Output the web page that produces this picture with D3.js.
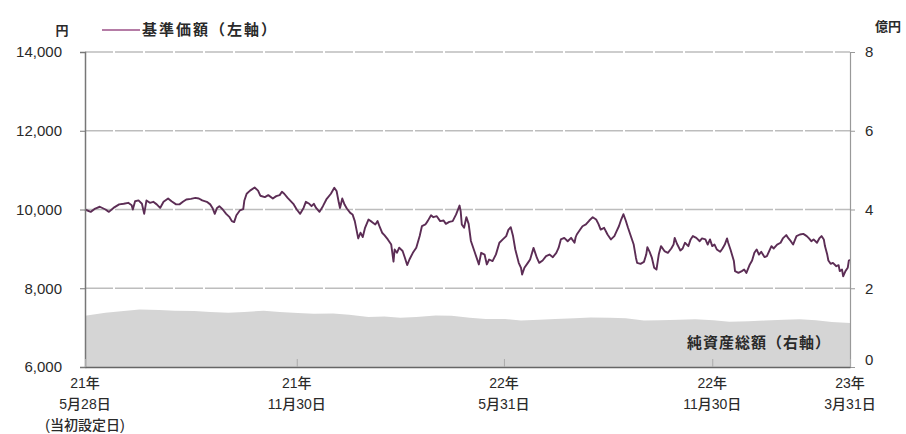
<!DOCTYPE html>
<html>
<head>
<meta charset="utf-8">
<script src="https://cdn.jsdelivr.net/npm/d3@7"></script>
<style>
  body { margin: 0; background: #fff; }
  svg text { font-family: "Liberation Sans", Arial, "Noto Sans CJK JP", sans-serif; fill: #2a2a2a; }
</style>
</head>
<body>
<div class="chart"></div>
<script>
// 基準価額 (left axis, yen)
const nav = [
  ["2021-05-28",10000],["2021-06-02",9940],["2021-06-06",10025],["2021-06-10",10070],["2021-06-15",10000],
  ["2021-06-18",9940],["2021-06-22",10040],["2021-06-27",10130],["2021-07-01",10145],["2021-07-05",10170],
  ["2021-07-08",10110],["2021-07-09",10000],["2021-07-11",10210],["2021-07-14",10230],["2021-07-17",10145],
  ["2021-07-19",9890],["2021-07-21",10230],["2021-07-24",10170],["2021-07-27",10195],["2021-07-30",10130],
  ["2021-08-02",10040],["2021-08-05",10195],["2021-08-09",10280],["2021-08-12",10210],["2021-08-16",10130],
  ["2021-08-19",10130],["2021-08-22",10195],["2021-08-25",10255],["2021-08-29",10270],["2021-09-02",10295],
  ["2021-09-05",10280],["2021-09-08",10230],["2021-09-12",10195],["2021-09-15",10130],["2021-09-17",10040],
  ["2021-09-19",9890],["2021-09-21",10040],["2021-09-23",10085],["2021-09-26",10000],["2021-09-29",9890],
  ["2021-10-02",9805],["2021-10-04",9705],["2021-10-06",9680],["2021-10-08",9855],["2021-10-11",9975],
  ["2021-10-14",10010],["2021-10-15",10230],["2021-10-17",10400],["2021-10-20",10480],["2021-10-24",10560],
  ["2021-10-27",10480],["2021-10-29",10350],["2021-11-02",10315],["2021-11-05",10365],["2021-11-09",10280],
  ["2021-11-12",10340],["2021-11-15",10365],["2021-11-17",10450],["2021-11-19",10400],["2021-11-22",10295],
  ["2021-11-27",10145],["2021-11-30",10000],["2021-12-03",9890],["2021-12-06",10040],["2021-12-08",10195],
  ["2021-12-11",10145],["2021-12-13",10085],["2021-12-15",10145],["2021-12-17",10040],["2021-12-20",9940],
  ["2021-12-23",10085],["2021-12-26",10255],["2021-12-30",10400],["2022-01-02",10550],["2022-01-04",10470],
  ["2022-01-06",10170],["2022-01-07",10040],["2022-01-09",10280],["2022-01-11",10125],["2022-01-13",10025],
  ["2022-01-16",9915],["2022-01-18",9875],["2022-01-20",9705],["2022-01-23",9265],["2022-01-25",9410],
  ["2022-01-27",9300],["2022-01-29",9535],["2022-02-01",9745],["2022-02-04",9685],["2022-02-07",9620],
  ["2022-02-09",9705],["2022-02-11",9550],["2022-02-13",9410],["2022-02-15",9350],["2022-02-18",9240],
  ["2022-02-21",9110],["2022-02-23",8675],["2022-02-24",8985],["2022-02-26",8900],["2022-02-28",9030],
  ["2022-03-03",8945],["2022-03-05",8775],["2022-03-07",8590],["2022-03-09",8730],["2022-03-12",8900],
  ["2022-03-15",9030],["2022-03-18",9325],["2022-03-20",9580],["2022-03-23",9620],["2022-03-25",9705],
  ["2022-03-28",9855],["2022-03-30",9805],["2022-04-02",9830],["2022-04-05",9705],["2022-04-08",9720],
  ["2022-04-10",9635],["2022-04-13",9685],["2022-04-16",9705],["2022-04-19",9875],["2022-04-22",10100],
  ["2022-04-23",9960],["2022-04-24",9620],["2022-04-26",9535],["2022-04-28",9805],["2022-04-30",9635],
  ["2022-05-02",9200],["2022-05-05",8945],["2022-05-09",8605],["2022-05-11",8900],["2022-05-14",8855],
  ["2022-05-16",8605],["2022-05-18",8730],["2022-05-21",8690],["2022-05-24",8860],["2022-05-27",9155],
  ["2022-05-30",9240],["2022-06-02",9325],["2022-06-04",9490],["2022-06-06",9550],["2022-06-08",9325],
  ["2022-06-10",8985],["2022-06-13",8645],["2022-06-15",8520],["2022-06-16",8350],["2022-06-18",8520],
  ["2022-06-21",8645],["2022-06-23",8730],["2022-06-26",9025],["2022-06-29",8770],["2022-07-01",8645],
  ["2022-07-04",8705],["2022-07-07",8815],["2022-07-10",8855],["2022-07-13",8790],["2022-07-16",8900],
  ["2022-07-18",9025],["2022-07-20",9240],["2022-07-23",9280],["2022-07-26",9195],["2022-07-29",9280],
  ["2022-08-01",9155],["2022-08-02",9295],["2022-08-03",9365],["2022-08-06",9490],["2022-08-08",9575],
  ["2022-08-11",9620],["2022-08-14",9720],["2022-08-17",9805],["2022-08-20",9745],["2022-08-22",9635],
  ["2022-08-24",9490],["2022-08-27",9535],["2022-08-30",9365],["2022-09-02",9240],["2022-09-05",9325],
  ["2022-09-07",9450],["2022-09-09",9575],["2022-09-11",9745],["2022-09-13",9880],["2022-09-15",9720],
  ["2022-09-17",9535],["2022-09-19",9365],["2022-09-22",9110],["2022-09-24",8770],["2022-09-25",8645],
  ["2022-09-28",8620],["2022-10-01",8670],["2022-10-03",8855],["2022-10-04",9045],["2022-10-06",8925],
  ["2022-10-08",8770],["2022-10-10",8520],["2022-10-12",8475],["2022-10-14",8855],["2022-10-16",9070],
  ["2022-10-19",8945],["2022-10-22",8900],["2022-10-25",9010],["2022-10-27",9110],["2022-10-28",9280],
  ["2022-10-30",9130],["2022-11-02",8960],["2022-11-04",9010],["2022-11-06",9155],["2022-11-09",9070],
  ["2022-11-11",9240],["2022-11-13",9325],["2022-11-16",9280],["2022-11-19",9195],["2022-11-21",9265],
  ["2022-11-24",9240],["2022-11-26",9110],["2022-11-28",9240],["2022-11-30",9070],["2022-12-02",9110],
  ["2022-12-04",8985],["2022-12-07",8925],["2022-12-09",9010],["2022-12-11",9110],["2022-12-13",9265],
  ["2022-12-14",9155],["2022-12-16",8985],["2022-12-19",8690],["2022-12-20",8435],["2022-12-23",8390],
  ["2022-12-26",8435],["2022-12-28",8475],["2022-12-30",8390],["2023-01-02",8605],["2023-01-04",8705],
  ["2023-01-06",8900],["2023-01-08",8985],["2023-01-10",8855],["2023-01-12",8925],["2023-01-15",8790],
  ["2023-01-17",8815],["2023-01-19",8945],["2023-01-21",9070],["2023-01-23",9010],["2023-01-26",9110],
  ["2023-01-29",9155],["2023-01-31",9265],["2023-02-03",9350],["2023-02-05",9265],["2023-02-07",9195],
  ["2023-02-09",9110],["2023-02-12",9325],["2023-02-15",9365],["2023-02-18",9380],["2023-02-21",9325],
  ["2023-02-23",9265],["2023-02-25",9195],["2023-02-27",9240],["2023-03-02",9155],["2023-03-04",9265],
  ["2023-03-06",9325],["2023-03-08",9240],["2023-03-09",9070],["2023-03-11",8855],["2023-03-12",8705],
  ["2023-03-14",8620],["2023-03-16",8645],["2023-03-19",8560],["2023-03-21",8585],["2023-03-22",8435],
  ["2023-03-24",8475],["2023-03-25",8305],["2023-03-27",8435],["2023-03-29",8520],["2023-03-30",8705],
  ["2023-03-31",8720]
];

// 純資産総額 (right axis, 億円)
const assets = [
  ["2021-05-28",1.30],["2021-06-15",1.38],["2021-07-01",1.42],["2021-07-15",1.46],["2021-08-01",1.45],
  ["2021-08-15",1.43],["2021-09-01",1.42],["2021-09-15",1.40],["2021-10-01",1.38],["2021-10-15",1.40],
  ["2021-11-01",1.43],["2021-11-15",1.40],["2021-12-01",1.37],["2021-12-15",1.35],["2022-01-01",1.36],
  ["2022-01-15",1.33],["2022-02-01",1.27],["2022-02-15",1.28],["2022-03-01",1.25],["2022-03-15",1.27],
  ["2022-04-01",1.31],["2022-04-15",1.30],["2022-05-01",1.25],["2022-05-15",1.22],["2022-06-01",1.22],
  ["2022-06-15",1.18],["2022-07-01",1.20],["2022-07-15",1.22],["2022-08-01",1.24],["2022-08-15",1.26],
  ["2022-09-01",1.25],["2022-09-15",1.24],["2022-10-01",1.18],["2022-10-15",1.19],["2022-11-01",1.20],
  ["2022-11-15",1.21],["2022-12-01",1.19],["2022-12-15",1.15],["2023-01-01",1.16],["2023-01-15",1.18],
  ["2023-02-01",1.20],["2023-02-15",1.21],["2023-03-01",1.19],["2023-03-15",1.14],["2023-03-31",1.12]
];

const leftTicks = [6000, 8000, 10000, 12000, 14000];
const rightTicks = [0, 2, 4, 6, 8];
const xTickDates = ["2021-05-28", "2021-11-30", "2022-05-31", "2022-11-30", "2023-03-31"];
const xTickYears = ["21年", "21年", "22年", "22年", "23年"];
const xTickDays = ["5月28日", "11月30日", "5月31日", "11月30日", "3月31日"];

const parse = d3.timeParse("%Y-%m-%d");
const navData = nav.map(d => ({date: parse(d[0]), v: d[1]}));
const assetData = assets.map(d => ({date: parse(d[0]), v: d[1]}));

const W = 906, H = 434;
const plot = {left: 85, right: 850, top: 52, bottom: 367};

const svg = d3.select('.chart').append('svg')
    .attr('width', W)
    .attr('height', H);

//Scales
const xScale = d3.scaleTime()
    .domain([parse("2021-05-28"), parse("2023-03-31")])
    .range([plot.left, plot.right]);
const yLeft = d3.scaleLinear().domain([6000, 14000]).range([plot.bottom, plot.top]);
const yRight = d3.scaleLinear().domain([0, 8]).range([plot.bottom, plot.top]);

// gridlines
svg.append('g')
    .selectAll('line')
    .data(leftTicks.slice(1))
    .enter()
    .append('line')
    .attr('x1', plot.left).attr('x2', plot.right)
    .attr('y1', d => yLeft(d)).attr('y2', d => yLeft(d))
    .attr('stroke', '#bdbdbd')
    .attr('stroke-width', 1.5)
    .attr('stroke-dasharray', '28 2');

// net assets area
const area = d3.area()
    .x(d => xScale(d.date))
    .y0(yRight(0))
    .y1(d => yRight(d.v));
svg.append('path')
    .datum(assetData)
    .attr('fill', '#d5d5d5')
    .attr('d', area);

// nav line
const line = d3.line()
    .x(d => xScale(d.date))
    .y(d => yLeft(d.v));
svg.append('path')
    .datum(navData)
    .attr('fill', 'none')
    .attr('stroke', '#5c2d55')
    .attr('stroke-width', 1.9)
    .attr('stroke-linejoin', 'round')
    .attr('d', line);

//Axes
const leftAxis = svg.append('g')
    .attr('transform', `translate(${plot.left},0)`)
    .call(d3.axisLeft(yLeft).tickValues(leftTicks).tickFormat(d3.format(",")).tickSize(5).tickPadding(18));
leftAxis.select('.domain').attr('stroke', '#777').attr('stroke-width', 1.5);
leftAxis.selectAll('.tick line').attr('stroke', '#777');
leftAxis.selectAll('.tick text').attr('font-size', 15).attr('fill', '#2a2a2a');

const rightAxis = svg.append('g')
    .attr('transform', `translate(${plot.right},0)`)
    .call(d3.axisRight(yRight).tickValues(rightTicks).tickSize(5).tickPadding(10));
rightAxis.select('.domain').attr('stroke', '#999').attr('stroke-width', 1.2);
rightAxis.selectAll('.tick line').attr('stroke', '#999');
rightAxis.selectAll('.tick text').attr('font-size', 15).attr('fill', '#2a2a2a');
rightAxis.selectAll('.tick').filter(d => d === 0).select('text').attr('dy', '-0.2em');

const bottomAxis = svg.append('g')
    .attr('transform', `translate(0,${plot.bottom})`)
    .call(d3.axisBottom(xScale).tickValues(xTickDates.map(parse)).tickSizeInner(-8).tickSizeOuter(0).tickFormat(''));
bottomAxis.select('.domain').attr('stroke', '#666').attr('stroke-width', 1.5);
bottomAxis.selectAll('.tick line').attr('stroke', '#aaa');

// multi-line x labels
const xLabels = svg.append('g');
xTickDates.forEach((d, i) => {
    const t = xLabels.append('text')
        .attr('x', xScale(parse(d)))
        .attr('y', plot.bottom + 21)
        .attr('text-anchor', 'middle')
        .attr('font-size', 14)
        .attr('font-weight', 500);
    t.append('tspan').attr('x', xScale(parse(d))).text(xTickYears[i]);
    t.append('tspan').attr('x', xScale(parse(d))).attr('dy', 21).text(xTickDays[i]);
    if (i === 0) {
        t.append('tspan').attr('x', xScale(parse(d))).attr('dy', 21).text("(当初設定日)");
    }
});

// unit labels
svg.append('text').attr('x', 62).attr('y', 35).attr('text-anchor', 'middle').attr('font-size', 13).attr('font-weight', 'bold').text("円");
svg.append('text').attr('x', 888).attr('y', 31).attr('text-anchor', 'middle').attr('font-size', 13).attr('font-weight', 'bold').text("億円");

//legend
svg.append('line')
    .attr('x1', 102).attr('x2', 140)
    .attr('y1', 30).attr('y2', 30)
    .attr('stroke', '#9c5088')
    .attr('stroke-width', 1.5);
svg.append('text')
    .attr('x', 142).attr('y', 35)
    .attr('font-size', 15)
    .attr('font-weight', 'bold')
    .attr('letter-spacing', 2)
    .text("基準価額（左軸）");

svg.append('text')
    .attr('x', 831).attr('y', 348)
    .attr('text-anchor', 'end')
    .attr('font-size', 15)
    .attr('font-weight', 'bold')
    .attr('fill', '#333')
    .attr('letter-spacing', 1)
    .text("純資産総額（右軸）");
</script>
</body>
</html>
